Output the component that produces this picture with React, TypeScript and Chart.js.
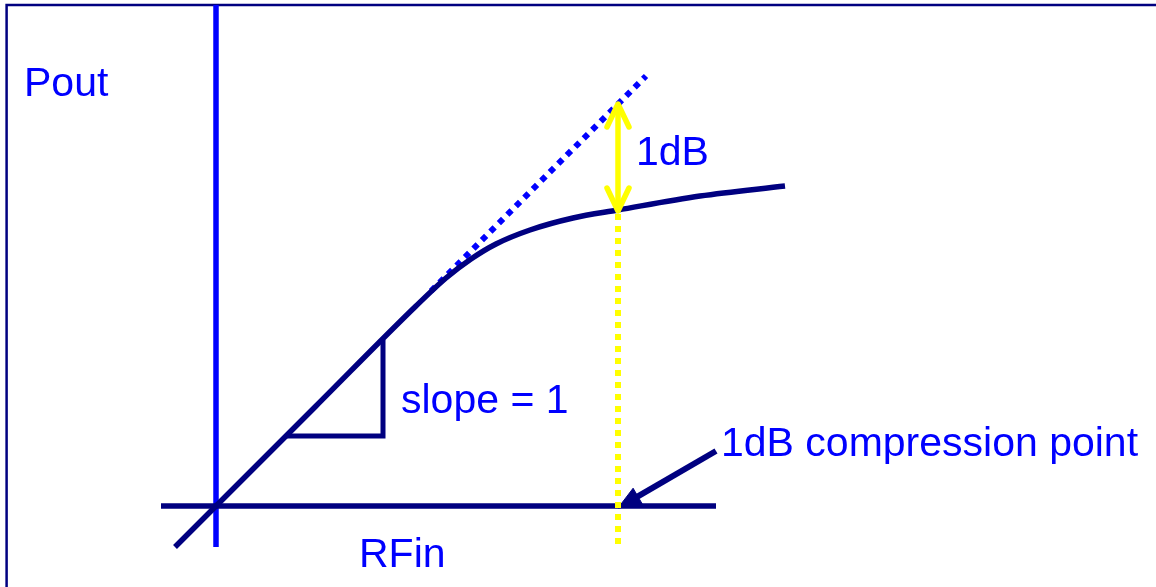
import React, { useEffect, useRef } from "react";
import { Chart, registerables } from "chart.js";

Chart.register(...registerables);

type P = [number, number];

// Diagram coordinates (RFin on x, Pout on y), origin at the axis crossing.
const frameLine: P[] = [[-20.94, -8.1], [-20.94, 50.1], [94.0, 50.1]];
const poutAxis: P[] = [[0, -4.1], [0, 50.1]];
const rfinAxis: P[] = [[-5.5, 0], [50.0, 0]];

// Measured Pout vs RFin (linear region, then compression)
const rfinValues = [-4.1, 10, 20, 23, 25.5, 28, 31.4, 35.7, 40.2, 48.4, 56.9];
const poutValues = [-4.1, 10, 20, 22.8, 24.7, 26.2, 27.6, 28.8, 29.6, 31.0, 32.0];

// Extrapolated ideal linear gain (slope = 1)
const idealRfin = [21.5, 43.0];
const idealPout = [21.5, 43.0];

// Slope triangle
const slopeTriangle: P[] = [[7.1, 7.0], [16.7, 7.0], [16.7, 16.6]];

// 1 dB compression point
const p1dbRfin = 40.2;
const p1dbPout = 29.5;
const p1dbIdeal = 40.2;
const dropBottom = -3.9;

// Annotation pointer (from label to compression point on RFin axis)
const pointerFrom: P = [50.0, 5.5];
const pointerTo: P = [40.2, -0.2];

// Text labels
const labelTexts = ["Pout", "1dB", "slope = 1", "1dB compression point", "RFin"];
const labelX = [-19.2, 42.0, 18.5, 50.5, 14.3];
const labelY = [41.0, 34.1, 9.3, 5.0, -6.1];

const NAVY = "#000080";
const BLUE = "#0000FF";
const YELLOW = "#FFFF00";

const toXY = (pts: P[]) => pts.map(([x, y]) => ({ x, y }));

function arrowHead(from: P, to: P, len: number, half: number) {
  const dx = to[0] - from[0];
  const dy = to[1] - from[1];
  const l = Math.hypot(dx, dy);
  const ux = dx / l;
  const uy = dy / l;
  const bx = to[0] - ux * len;
  const by = to[1] - uy * len;
  const px = -uy;
  const py = ux;
  const head: P[] = [
    [bx + px * half, by + py * half],
    [to[0], to[1]],
    [bx - px * half, by - py * half],
    [bx + px * half, by + py * half],
  ];
  const shaftEnd: P = [bx + ux * 0.4, by + uy * 0.4];
  return { head, shaftEnd };
}

function chevron(tipX: number, tipY: number, dir: number): P[] {
  // dir = +1 pointing up, -1 pointing down
  return [
    [tipX - 1.1, tipY - dir * 2.3],
    [tipX, tipY],
    [tipX + 1.1, tipY - dir * 2.3],
  ];
}

const textPlugin = {
  id: "diagramText",
  afterDatasetsDraw(chart: any) {
    const ctx = chart.ctx;
    const xs = chart.scales.x;
    const ys = chart.scales.y;
    ctx.save();
    ctx.fillStyle = BLUE;
    ctx.font = '41px "Liberation Sans", Arial, sans-serif';
    ctx.textAlign = "left";
    ctx.textBaseline = "alphabetic";
    labelTexts.forEach((t, i) => {
      ctx.fillText(t, xs.getPixelForValue(labelX[i]), ys.getPixelForValue(labelY[i]));
    });
    ctx.restore();
  },
};

export default function App() {
  const ref = useRef<HTMLCanvasElement | null>(null);

  useEffect(() => {
    if (!ref.current) return;
    const pointer = arrowHead(pointerFrom, pointerTo, 2.3, 0.95);
    const curve = rfinValues.map((x, i) => ({ x, y: poutValues[i] }));
    const ideal = idealRfin.map((x, i) => ({ x, y: idealPout[i] }));

    const base = {
      showLine: true,
      pointRadius: 0,
      pointHoverRadius: 0,
      fill: false,
      clip: false as any,
      borderCapStyle: "butt" as const,
      borderJoinStyle: "miter" as const,
    };

    const chart = new Chart(ref.current, {
      type: "scatter",
      data: {
        datasets: [
          // yellow double arrow (top layer)
          { ...base, order: 1, data: toXY([[p1dbRfin, p1dbPout + 0.3], [p1dbRfin, p1dbIdeal - 0.3]]), borderColor: YELLOW, borderWidth: 5.5 },
          { ...base, order: 1, data: toXY(chevron(p1dbRfin, p1dbIdeal, 1)), borderColor: YELLOW, borderWidth: 5.5, borderCapStyle: "round", borderJoinStyle: "round" },
          { ...base, order: 1, data: toXY(chevron(p1dbRfin, p1dbPout, -1)), borderColor: YELLOW, borderWidth: 5.5, borderCapStyle: "round", borderJoinStyle: "round" },
          // yellow dotted drop line
          { ...base, order: 2, data: toXY([[p1dbRfin, p1dbPout - 0.3], [p1dbRfin, dropBottom]]), borderColor: YELLOW, borderWidth: 6, borderDash: [6, 6] },
          // Pout curve
          { ...base, order: 3, data: curve, borderColor: NAVY, borderWidth: 5.5, cubicInterpolationMode: "monotone" as const },
          // pointer arrow
          { ...base, order: 4, data: toXY([pointerFrom, pointer.shaftEnd]), borderColor: NAVY, borderWidth: 6 },
          { ...base, order: 4, data: toXY(pointer.head), borderColor: NAVY, backgroundColor: NAVY, borderWidth: 1, fill: "shape" as any },
          // slope triangle
          { ...base, order: 5, data: toXY(slopeTriangle), borderColor: NAVY, borderWidth: 5 },
          // RFin axis
          { ...base, order: 6, data: toXY(rfinAxis), borderColor: NAVY, borderWidth: 5.5 },
          // ideal (dotted) line
          { ...base, order: 7, data: ideal, borderColor: BLUE, borderWidth: 6, borderDash: [6, 6] },
          // Pout axis
          { ...base, order: 8, data: toXY(poutAxis), borderColor: BLUE, borderWidth: 5.5 },
          // frame
          { ...base, order: 9, data: toXY(frameLine), borderColor: NAVY, borderWidth: 2.5 },
        ] as any,
      },
      options: {
        animation: false,
        responsive: false,
        devicePixelRatio: 1,
        maintainAspectRatio: false,
        layout: { padding: 0 },
        events: [],
        plugins: {
          legend: { display: false },
          tooltip: { enabled: false },
        },
        scales: {
          x: { type: "linear", min: -21.6, max: 94.0, display: false },
          y: { type: "linear", min: -8.1, max: 50.6, display: false },
        },
      },
      plugins: [textPlugin],
    });
    return () => chart.destroy();
  }, []);

  return (
    <div style={{ position: "absolute", left: 0, top: 0, width: 1156, height: 587, background: "#ffffff" }}>
      <canvas ref={ref} width={1156} height={587} style={{ display: "block" }} />
    </div>
  );
}
